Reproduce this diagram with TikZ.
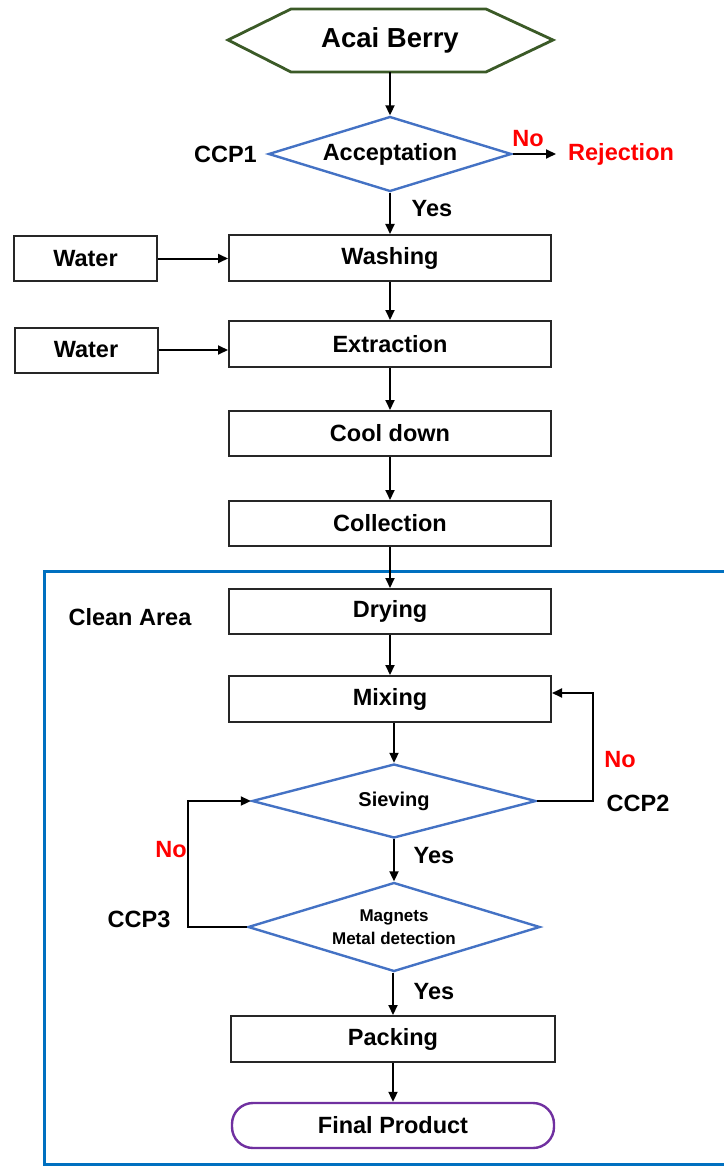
\documentclass[tikz,border=0pt]{standalone}
\usepackage{fontspec}
\setmainfont{Liberation Sans}
\usetikzlibrary{arrows.meta,shapes.geometric}
\definecolor{hexgreen}{HTML}{3B5A27}
\definecolor{diablue}{HTML}{4472C4}
\definecolor{areablue}{HTML}{0070C0}
\definecolor{prodpurple}{HTML}{7030A0}
\definecolor{rejred}{HTML}{FF0000}
\tikzset{
  mainfont/.style={font=\fontsize{23.5}{26}\selectfont\bfseries},
  procbox/.style={draw=black!85, line width=2pt, rectangle, minimum width=322pt, minimum height=46pt, inner sep=0pt, mainfont},
  waterbox/.style={procbox, minimum width=143pt, minimum height=45pt},
  decision/.style={draw=diablue, line width=2.4pt, diamond, inner sep=0pt, mainfont},
  flowarrow/.style={draw=black, line width=2pt, -{Triangle[length=10pt,width=9pt]}},
  lbl/.style={mainfont, inner sep=0pt},
  redlbl/.style={lbl, text=rejred},
}
\begin{document}
\begin{tikzpicture}[x=1pt,y=-1pt]
\useasboundingbox (0,0) rectangle (723,1166);
% clean area border
\draw[areablue, line width=3pt] (740,571) -- (44,571) -- (44,1164.5) -- (740,1164.5);
% start hexagon
\draw[hexgreen, line width=2.8pt] (228,40) -- (291,9) -- (486,9) -- (553,40) -- (486,72) -- (291,72) -- cycle;
\node[lbl, font=\fontsize{27.5}{30}\selectfont\bfseries, minimum width=195pt, minimum height=64pt] (acai) at (390,40) {Acai Berry};
% decision 1
\node[decision, minimum width=243pt, minimum height=75pt, aspect=3.24] (acc) at (390,154) {Acceptation};
\node[lbl, anchor=east] (ccp1) at (257,154) {CCP1};
\node[redlbl, anchor=west, inner xsep=12pt] (rej) at (556,154) {Rejection};
\node[redlbl] (no1) at (528,139) {No};
\node[lbl] (yes1) at (432,209) {Yes};
% process boxes
\node[procbox] (washing) at (390,258) {Washing};
\node[waterbox] (water1) at (85.5,258.5) {Water};
\node[procbox] (extraction) at (390,344) {Extraction};
\node[waterbox] (water2) at (86,350) {Water};
\node[procbox, minimum height=45pt] (cool) at (390,433.5) {Cool down};
\node[procbox, minimum height=45pt] (collection) at (390,523.5) {Collection};
\node[lbl] (clean) at (130,617) {Clean Area};
\node[procbox, minimum height=45pt] (drying) at (390,611.5) {Drying};
\node[procbox] (mixing) at (390,699) {Mixing};
\node[decision, font=\fontsize{20}{22}\selectfont\bfseries, minimum width=284pt, minimum height=74pt, aspect=3.84] (siev) at (394,801) {\raisebox{-3pt}{Sieving}};
\node[redlbl] (no2) at (620,760) {No};
\node[lbl] (ccp2) at (638,803) {CCP2};
\node[redlbl] (no3) at (171,850) {No};
\node[lbl] (ccp3) at (139,919) {CCP3};
\node[lbl] (yes2) at (434,856) {Yes};
\node[decision, font=\fontsize{17}{23}\selectfont\bfseries, align=center, minimum width=292pt, minimum height=89pt, aspect=3.28] (mag) at (394,927) {Magnets\\Metal detection};
\node[lbl] (yes3) at (434,992) {Yes};
\node[procbox, minimum width=324pt] (pack) at (393,1039) {Packing};
\node[draw=prodpurple, line width=2.4pt, rounded corners=21pt, minimum width=322pt, minimum height=45pt, inner sep=0pt, mainfont] (final) at (393,1125.5) {Final Product};
% connectors
\draw[flowarrow] (acai.south) -- (acc.north);
\draw[flowarrow] (acc.east) -- (rej.west);
\draw[flowarrow] (acc.south) -- (washing.north);
\draw[flowarrow] (water1.east) -- (water1.east -| washing.west);
\draw[flowarrow] (washing.south) -- (extraction.north);
\draw[flowarrow] (water2.east) -- (water2.east -| extraction.west);
\draw[flowarrow] (extraction.south) -- (cool.north);
\draw[flowarrow] (cool.south) -- (collection.north);
\draw[flowarrow] (collection.south) -- (drying.north);
\draw[flowarrow] (drying.south) -- (mixing.north);
\draw[flowarrow] (siev.north |- mixing.south) -- (siev.north);
\draw[flowarrow] (siev.east) -- ++(56,0) |- ([yshift=6pt]mixing.east);
\draw[flowarrow] (siev.south) -- (mag.north);
\draw[flowarrow] (mag.west) -- ++(-59,0) |- (siev.west);
\draw[flowarrow] (mag.south -| pack.north) -- (pack.north);
\draw[flowarrow] (pack.south) -- (final.north);
\end{tikzpicture}
\end{document}
